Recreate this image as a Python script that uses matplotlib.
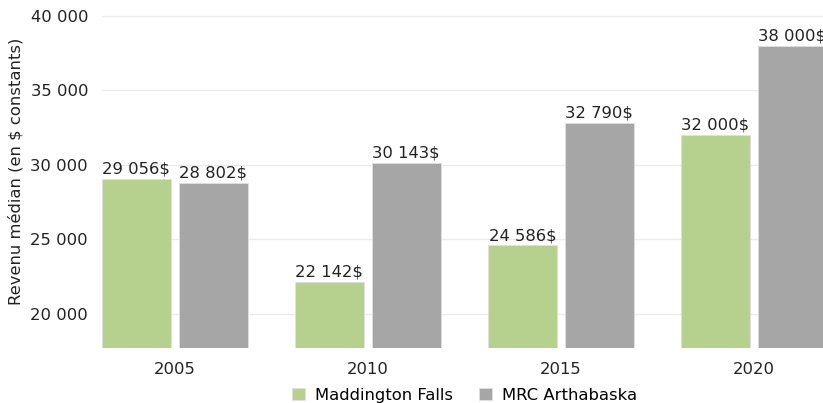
import numpy as np
import matplotlib.pyplot as plt

years = ["2005", "2010", "2015", "2020"]
maddington = [29056, 22142, 24586, 32000]
arthabaska = [28802, 30143, 32790, 38000]
series_names = ["Maddington Falls", "MRC Arthabaska"]
colors = ["#b5d18d", "#a6a6a6"]


def fmt(v):
    return f"{v:,}".replace(",", " ")


fs = 11.8
fig = plt.figure(figsize=(8.23, 4.03), dpi=100)
ax = fig.add_axes([102 / 823, (403 - 348) / 403, 724.5 / 823, (348 - 15) / 403])

x = np.arange(len(years))
w = 0.357
gap = 0.041
for i, (vals, name, c) in enumerate(zip([maddington, arthabaska], series_names, colors)):
    pos = x + (i - 0.5) * (w + gap)
    bars = ax.bar(pos, vals, width=w, color=c, label=name,
                  edgecolor="#e0e0e0", linewidth=0.6)
    for b, v in zip(bars, vals):
        ax.text(b.get_x() + b.get_width() / 2, v + 150, fmt(v) + "$",
                ha="center", va="bottom", fontsize=fs, color="#222222")

ax.set_xlim(-0.377, 3.377)
ax.set_ylim(17700, 40050)
ax.set_yticks([20000, 25000, 30000, 35000, 40000])
ax.set_yticklabels([fmt(t) for t in [20000, 25000, 30000, 35000, 40000]])
ax.set_xticks(x)
ax.set_xticklabels(years)
ax.tick_params(length=0, labelsize=fs, colors="#222222")
ax.tick_params(axis="x", pad=10)
ax.tick_params(axis="y", pad=10)
ax.grid(axis="y", color="#ebebeb", linewidth=1)
ax.set_axisbelow(True)
for s in ax.spines.values():
    s.set_visible(False)
ax.set_ylabel("Revenu médian (en $ constants)", fontsize=fs, color="#222222", labelpad=5)
ax.yaxis.label.set_y(0.53)

ax.legend(loc="upper center", bbox_to_anchor=(0.5, -0.1), ncol=2, frameon=False,
          fontsize=fs, handlelength=0.8, handleheight=0.8, columnspacing=1.6,
          handletextpad=0.6, borderaxespad=0)

fig.savefig("out.png", dpi=100)
